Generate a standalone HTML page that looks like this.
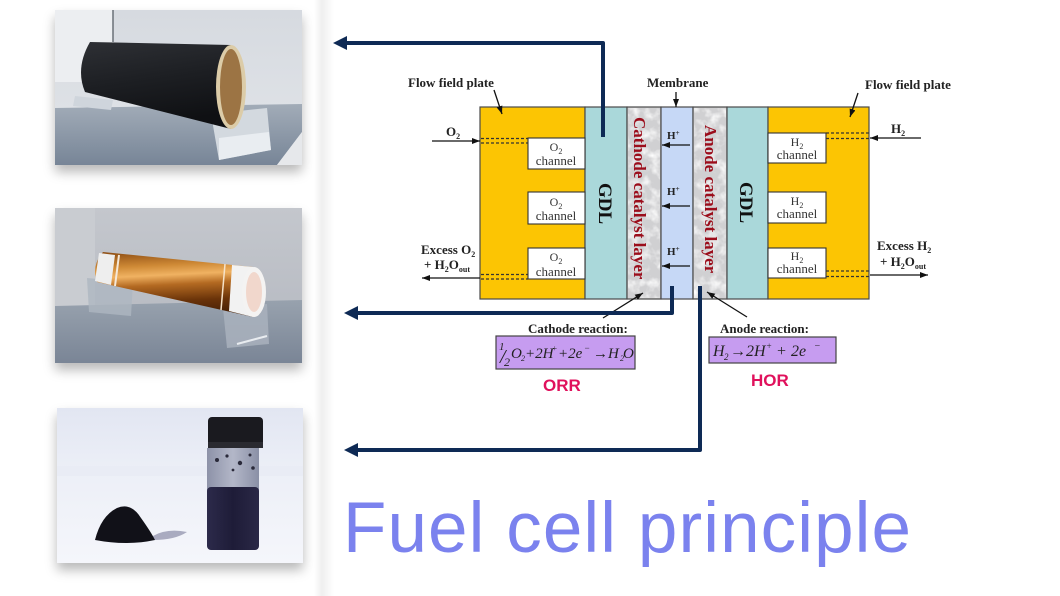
<!DOCTYPE html>
<html>
<head>
<meta charset="utf-8">
<style>
html,body{margin:0;padding:0;background:#ffffff;}
body{width:1060px;height:596px;position:relative;overflow:hidden;font-family:"Liberation Serif",serif;}
.photo{position:absolute;box-shadow:0 7px 11px rgba(0,0,0,0.28);line-height:0;}
.band{position:absolute;left:314px;top:0;width:20px;height:596px;background:linear-gradient(to right,rgba(255,255,255,0),#efefef 40%,rgba(255,255,255,0));}
</style>
</head>
<body>
<div class="band"></div>

<!-- Photo 1: black carbon roll -->
<div class="photo" style="left:55px;top:10px;width:247px;height:155px;">
<svg width="247" height="155" viewBox="0 0 247 155">
<defs>
<linearGradient id="p1bg" x1="0" y1="0" x2="0" y2="1"><stop offset="0" stop-color="#d6dae0"/><stop offset="1" stop-color="#e2e5e9"/></linearGradient>
<linearGradient id="p1tb" x1="0" y1="0" x2="0" y2="1"><stop offset="0" stop-color="#a2acb8"/><stop offset="1" stop-color="#778597"/></linearGradient>
<linearGradient id="p1cy" x1="0" y1="0" x2="0.25" y2="1"><stop offset="0" stop-color="#2e3035"/><stop offset=".5" stop-color="#1d1f23"/><stop offset="1" stop-color="#0f1013"/></linearGradient>
</defs>
<rect width="247" height="155" fill="url(#p1bg)"/>
<rect x="0" y="0" width="58" height="72" fill="#eceef1"/>
<line x1="58" y1="0" x2="58" y2="32" stroke="#6a7078" stroke-width="1.5"/>
<polygon points="0,98 247,94 247,122 222,155 0,155" fill="url(#p1tb)"/>
<polygon points="222,155 247,122 247,155" fill="#e6e8eb"/>
<polygon points="20,86 58,90 56,100 18,96" fill="#cfd5dc"/>
<polygon points="156,104 212,98 216,140 164,150" fill="#d3d9df"/>
<polygon points="164,128 214,122 216,140 164,150" fill="#e9edf1"/>
<path d="M35,32 L176,35 L176,119 L30,82 Q20,58 35,32Z" fill="url(#p1cy)"/>
<ellipse cx="176" cy="77" rx="15" ry="42" fill="#dccca8"/>
<ellipse cx="176" cy="77" rx="11" ry="38" fill="#9c7444"/>
</svg>
</div>

<!-- Photo 2: copper roll -->
<div class="photo" style="left:55px;top:208px;width:247px;height:155px;">
<svg width="247" height="155" viewBox="0 0 247 155">
<defs>
<linearGradient id="p2bg" x1="0" y1="0" x2="0" y2="1"><stop offset="0" stop-color="#c4c7cd"/><stop offset="1" stop-color="#b3b7bf"/></linearGradient>
<linearGradient id="p2tb" x1="0" y1="0" x2="0" y2="1"><stop offset="0" stop-color="#98a2ae"/><stop offset="1" stop-color="#7a8596"/></linearGradient>
<linearGradient id="p2cy" x1="0" y1="0" x2="0.12" y2="1"><stop offset="0" stop-color="#8a4a12"/><stop offset=".25" stop-color="#cf8a36"/><stop offset=".4" stop-color="#f0b262"/><stop offset=".55" stop-color="#b46a22"/><stop offset=".8" stop-color="#6a3309"/><stop offset="1" stop-color="#4a2206"/></linearGradient>
</defs>
<rect width="247" height="155" fill="url(#p2bg)"/>
<rect x="0" y="0" width="40" height="100" fill="#c9ccd1"/>
<polygon points="0,98 247,92 247,155 0,155" fill="url(#p2tb)"/>
<polygon points="32,70 78,74 76,108 34,104" fill="#aeb6c0" opacity=".8"/>
<polygon points="168,100 212,96 214,136 172,140" fill="#a9b2bd" opacity=".85"/>
<line x1="182" y1="136" x2="212" y2="128" stroke="#e8ecf0" stroke-width="2"/>
<path d="M48,44 L198,59 L198,109 L42,74 Q36,58 48,44Z" fill="url(#p2cy)"/>
<polygon points="44,45 60,47 56,77 40,73" fill="#eeeeee"/>
<line x1="64" y1="47" x2="60" y2="78" stroke="#f5e8d8" stroke-width="2"/>
<polygon points="177,57 198,59 198,109 174,103" fill="#f2f2f2"/>
<line x1="170" y1="56" x2="166" y2="102" stroke="#f6e2c8" stroke-width="1.5"/>
<ellipse cx="199" cy="84" rx="12" ry="25" fill="#f4f3f2"/>
<ellipse cx="199" cy="84" rx="8" ry="20" fill="#f1d7cc"/>
</svg>
</div>

<!-- Photo 3: powder and vial -->
<div class="photo" style="left:57px;top:408px;width:246px;height:155px;">
<svg width="246" height="155" viewBox="0 0 246 155">
<defs>
<linearGradient id="p3bg" x1="0" y1="0" x2="0" y2="1"><stop offset="0" stop-color="#e2e6f2"/><stop offset=".4" stop-color="#eceff7"/><stop offset="1" stop-color="#f5f6fb"/></linearGradient>
<linearGradient id="p3liq" x1="0" y1="0" x2="1" y2="0"><stop offset="0" stop-color="#2c2a4a"/><stop offset=".5" stop-color="#1e1c38"/><stop offset="1" stop-color="#2a2846"/></linearGradient>
<linearGradient id="p3gl" x1="0" y1="0" x2="1" y2="0"><stop offset="0" stop-color="#8d92a8"/><stop offset=".5" stop-color="#b3b7c8"/><stop offset="1" stop-color="#8a90a6"/></linearGradient>
</defs>
<rect width="246" height="155" fill="url(#p3bg)"/>
<rect x="0" y="58" width="246" height="10" fill="#e9ecf5"/>
<path d="M96,128 Q110,120 130,124 Q118,132 96,132Z" fill="#8a8ca6" opacity=".7"/>
<path d="M38,132 Q44,108 60,100 Q74,94 84,110 Q94,124 98,132 Q70,138 38,132Z" fill="#111118"/>
<path d="M150,40 L202,40 L202,136 Q202,142 196,142 L156,142 Q150,142 150,136Z" fill="url(#p3gl)"/>
<rect x="150" y="79" width="52" height="63" rx="4" fill="url(#p3liq)"/>
<circle cx="160" cy="52" r="2" fill="#2a2a3a"/><circle cx="170" cy="48" r="1.6" fill="#2a2a3a"/><circle cx="183" cy="55" r="2.2" fill="#2a2a3a"/><circle cx="193" cy="47" r="1.5" fill="#2a2a3a"/><circle cx="176" cy="62" r="1.4" fill="#2a2a3a"/><circle cx="196" cy="60" r="1.8" fill="#2a2a3a"/>
<rect x="151" y="9" width="55" height="29" rx="4" fill="#1a1a1f"/>
<rect x="151" y="34" width="55" height="6" fill="#2a2a30"/>
</svg>
</div>

<!-- Main diagram -->
<svg width="1060" height="596" viewBox="0 0 1060 596" style="position:absolute;left:0;top:0;">
<defs>
<marker id="ah" viewBox="0 0 8 6" refX="8" refY="3" markerWidth="8" markerHeight="6" markerUnits="userSpaceOnUse" orient="auto"><path d="M0,0 L8,3 L0,6Z" fill="#111"/></marker>
<filter id="mb" x="0" y="0" width="1" height="1"><feTurbulence type="fractalNoise" baseFrequency="0.1" numOctaves="3" seed="7"/><feColorMatrix type="matrix" values="0 0 0 0 1  0 0 0 0 1  0 0 0 0 1  2.2 0 0 0 -0.95"/></filter>
</defs>

<!-- Layers -->
<rect x="480" y="107" width="105" height="192" fill="#fcc503" stroke="#4a4a4a" stroke-width="1.2"/>
<rect x="585" y="107" width="42" height="192" fill="#aad8da" stroke="#4a4a4a" stroke-width="1.2"/>
<rect x="627" y="107" width="34" height="192" fill="#d0d0d2" stroke="#4a4a4a" stroke-width="1.2"/>
<rect x="628" y="108" width="32" height="190" filter="url(#mb)"/>
<rect x="661" y="107" width="32" height="192" fill="#c6d8f6" stroke="#4a4a4a" stroke-width="1.2"/>
<rect x="693" y="107" width="34" height="192" fill="#d0d0d2" stroke="#4a4a4a" stroke-width="1.2"/>
<rect x="694" y="108" width="32" height="190" filter="url(#mb)"/>
<rect x="727" y="107" width="41" height="192" fill="#aad8da" stroke="#4a4a4a" stroke-width="1.2"/>
<rect x="768" y="107" width="101" height="192" fill="#fcc503" stroke="#4a4a4a" stroke-width="1.2"/>

<!-- Channels -->
<g fill="#ffffff" stroke="#333" stroke-width="1.1">
<rect x="528" y="138" width="57" height="31"/>
<rect x="528" y="192" width="57" height="32"/>
<rect x="528" y="248" width="57" height="31"/>
<rect x="768" y="133" width="58" height="30"/>
<rect x="768" y="192" width="58" height="31"/>
<rect x="768" y="248" width="58" height="30"/>
</g>
<g font-family="Liberation Serif, serif" font-size="12" fill="#333" text-anchor="middle">
<text x="556" y="151">O<tspan font-size="8" dy="3">2</tspan></text>
<text x="556" y="165" font-size="13">channel</text>
<text x="556" y="206">O<tspan font-size="8" dy="3">2</tspan></text>
<text x="556" y="220" font-size="13">channel</text>
<text x="556" y="261">O<tspan font-size="8" dy="3">2</tspan></text>
<text x="556" y="276" font-size="13">channel</text>
<text x="797" y="146">H<tspan font-size="8" dy="3">2</tspan></text>
<text x="797" y="159" font-size="13">channel</text>
<text x="797" y="205">H<tspan font-size="8" dy="3">2</tspan></text>
<text x="797" y="218" font-size="13">channel</text>
<text x="797" y="260">H<tspan font-size="8" dy="3">2</tspan></text>
<text x="797" y="273" font-size="13">channel</text>
</g>

<!-- Dotted lines -->
<g stroke="#333" stroke-width="1.2" stroke-dasharray="3,2">
<line x1="481" y1="138.5" x2="528" y2="138.5"/>
<line x1="481" y1="143" x2="528" y2="143"/>
<line x1="481" y1="274.5" x2="528" y2="274.5"/>
<line x1="481" y1="279" x2="528" y2="279"/>
<line x1="826" y1="133" x2="869" y2="133"/>
<line x1="826" y1="138.5" x2="869" y2="138.5"/>
<line x1="826" y1="271" x2="869" y2="271"/>
<line x1="826" y1="276.5" x2="869" y2="276.5"/>
</g>

<!-- Thin arrows -->
<g stroke="#111" stroke-width="1.3" fill="none" marker-end="url(#ah)">
<line x1="432" y1="141" x2="480" y2="141"/>
<line x1="480" y1="278" x2="422" y2="278"/>
<line x1="921" y1="138" x2="870" y2="138"/>
<line x1="870" y1="275" x2="928" y2="275"/>
<line x1="494" y1="90" x2="502" y2="114"/>
<line x1="676" y1="92" x2="676" y2="107"/>
<line x1="858" y1="93" x2="850" y2="117"/>
<line x1="690" y1="145" x2="662" y2="145"/>
<line x1="690" y1="206" x2="662" y2="206"/>
<line x1="690" y1="266" x2="662" y2="266"/>
<line x1="603" y1="318" x2="643" y2="293"/>
<line x1="747" y1="317" x2="707" y2="292"/>
</g>

<!-- Bold labels -->
<g font-family="Liberation Serif, serif" font-weight="bold" font-size="13" fill="#222">
<text x="408" y="87">Flow field plate</text>
<text x="647" y="87">Membrane</text>
<text x="865" y="89">Flow field plate</text>
<text x="446" y="136">O<tspan font-size="8" dy="3">2</tspan></text>
<text x="891" y="133">H<tspan font-size="8" dy="3">2</tspan></text>
<text x="421" y="254">Excess O<tspan font-size="8" dy="3">2</tspan></text>
<text x="424" y="269">+ H<tspan font-size="8" dy="3">2</tspan><tspan dy="-3">O</tspan><tspan font-size="8" dy="3">out</tspan></text>
<text x="877" y="250">Excess H<tspan font-size="8" dy="3">2</tspan></text>
<text x="880" y="266">+ H<tspan font-size="8" dy="3">2</tspan><tspan dy="-3">O</tspan><tspan font-size="8" dy="3">out</tspan></text>
<text x="667" y="139" font-size="11">H<tspan font-size="7" dy="-4">+</tspan></text>
<text x="667" y="195" font-size="11">H<tspan font-size="7" dy="-4">+</tspan></text>
<text x="667" y="255" font-size="11">H<tspan font-size="7" dy="-4">+</tspan></text>
<text x="528" y="333">Cathode reaction:</text>
<text x="720" y="333">Anode reaction:</text>
</g>

<!-- Rotated layer labels -->
<g font-family="Liberation Serif, serif" font-weight="bold">
<text transform="translate(634,117) rotate(90)" font-size="17" fill="#9b0d1b">Cathode catalyst layer</text>
<text transform="translate(705,125) rotate(90)" font-size="17" fill="#9b0d1b">Anode catalyst layer</text>
<text transform="translate(599,183) rotate(90)" font-size="19" fill="#111">GDL</text>
<text transform="translate(740,182) rotate(90)" font-size="19" fill="#111">GDL</text>
</g>

<!-- Navy connectors -->
<g stroke="#0e2a55" stroke-width="4" fill="none" stroke-linejoin="round">
<path d="M603,137 V43 H344"/>
<path d="M672,286 V313 H355"/>
<path d="M700,286 V450 H355"/>
</g>
<g fill="#0e2a55">
<polygon points="333,43 347,36 347,50"/>
<polygon points="344,313 358,306 358,320"/>
<polygon points="344,450 358,443 358,457"/>
</g>

<!-- Reaction boxes -->
<rect x="496" y="336" width="139" height="33" fill="#c69cf0" stroke="#444" stroke-width="1.2"/>
<rect x="709" y="337" width="127" height="26" fill="#c69cf0" stroke="#444" stroke-width="1.2"/>
<g font-family="Liberation Serif, serif" font-style="italic" fill="#222" font-size="15">
<text x="499" y="350" font-size="11">1</text>
<text x="500" y="363" font-size="20">/</text>
<text x="504" y="366" font-size="12">2</text>
<text x="511" y="358">O</text>
<text x="521" y="361" font-size="8">2</text>
<text x="525" y="358">+2H</text>
<text x="552" y="351" font-size="8">+</text>
<text x="558" y="358">+2e</text>
<text x="584" y="351" font-size="9">−</text>
<text x="593" y="358">→H</text>
<text x="620" y="361" font-size="8">2</text>
<text x="623" y="358">O</text>

<text x="713" y="356" font-size="16">H</text>
<text x="724" y="360" font-size="9">2</text>
<text x="730" y="356" font-size="16">→</text>
<text x="746" y="356" font-size="16">2H</text>
<text x="766" y="349" font-size="9">+</text>
<text x="776" y="356" font-size="16">+</text>
<text x="791" y="356" font-size="16">2e</text>
<text x="814" y="349" font-size="10">−</text>
</g>

<g font-family="Liberation Sans, sans-serif" font-weight="bold" font-size="17" fill="#e0115c">
<text x="543" y="391">ORR</text>
<text x="751" y="386">HOR</text>
</g>

<!-- Title -->
<text x="343" y="552" font-family="Liberation Sans, sans-serif" font-size="71" fill="#7b82ee" textLength="568" lengthAdjust="spacing">Fuel cell principle</text>
</svg>
</body>
</html>
